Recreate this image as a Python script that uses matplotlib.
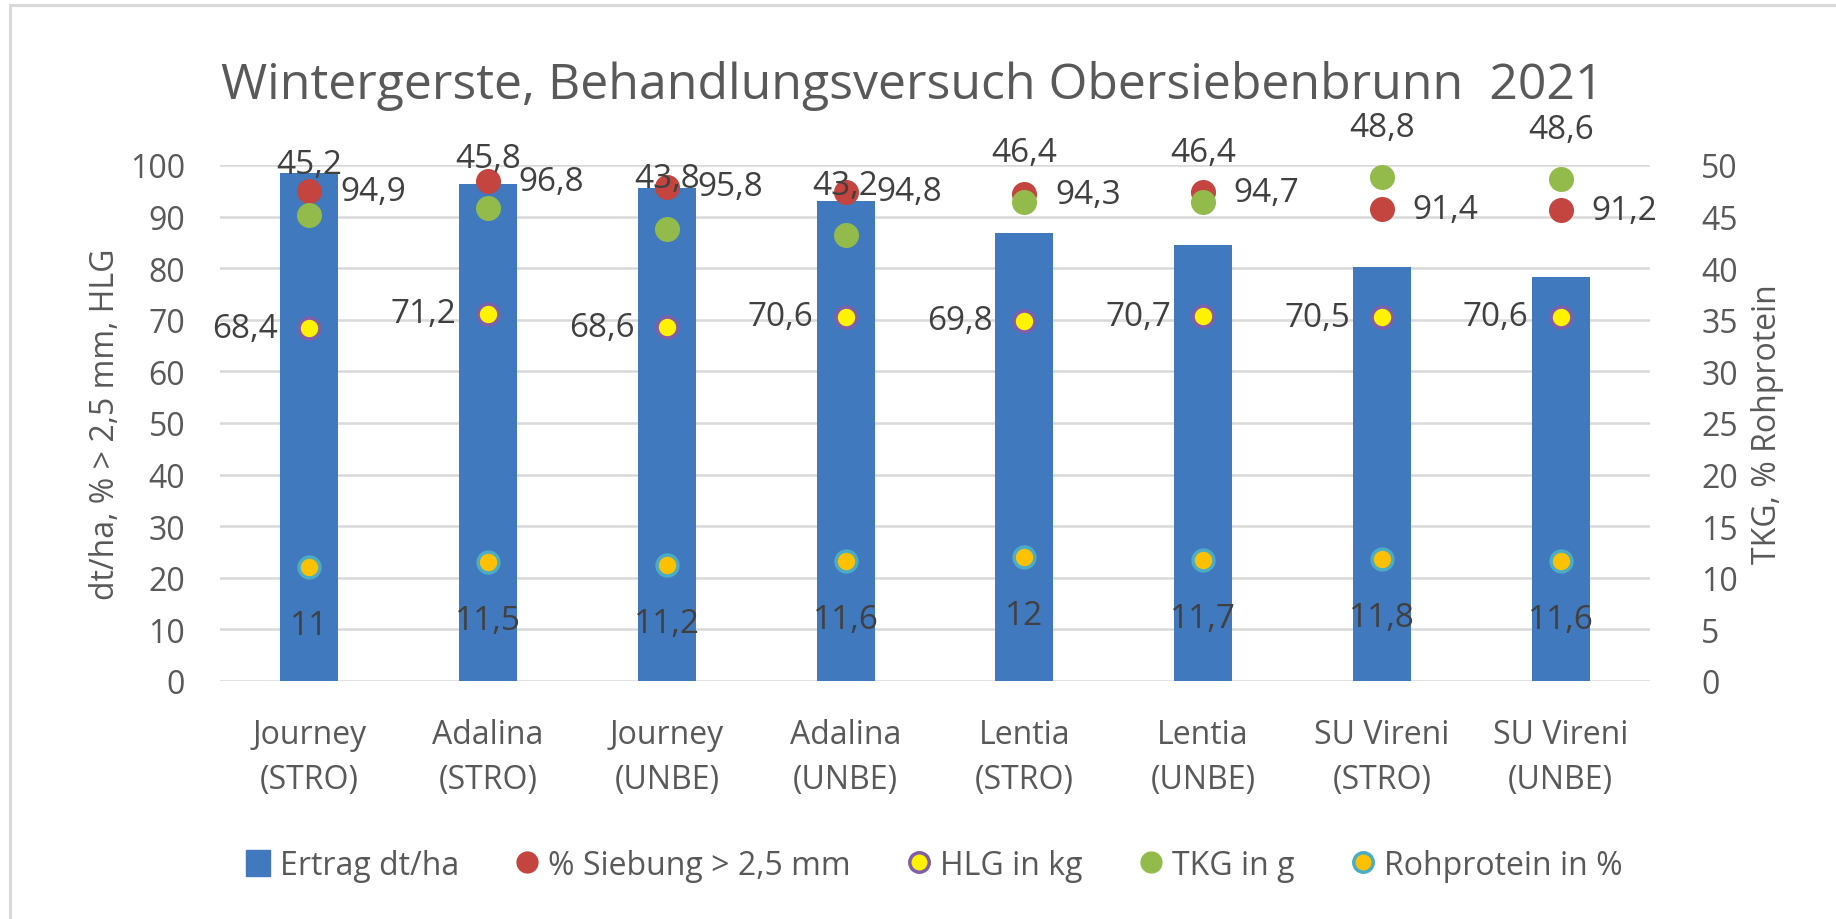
import matplotlib.pyplot as plt
from matplotlib.lines import Line2D
from matplotlib.patches import Patch
import numpy as np

sorten = ["Journey\n(STRO)", "Adalina\n(STRO)", "Journey\n(UNBE)", "Adalina\n(UNBE)",
          "Lentia\n(STRO)", "Lentia\n(UNBE)", "SU Vireni\n(STRO)", "SU Vireni\n(UNBE)"]
ertrag = [98.4, 96.3, 95.6, 93.1, 86.8, 84.4, 80.3, 78.3]
siebung = [94.9, 96.8, 95.8, 94.8, 94.3, 94.7, 91.4, 91.2]
hlg = [68.4, 71.2, 68.6, 70.6, 69.8, 70.7, 70.5, 70.6]
tkg = [45.2, 45.8, 43.8, 43.2, 46.4, 46.4, 48.8, 48.6]
rohprotein = [11, 11.5, 11.2, 11.6, 12, 11.7, 11.8, 11.6]

FONT = ["Open Sans", "DejaVu Sans"]
plt.rcParams["font.family"] = FONT
TXT = "#595959"
LBL = "#404040"
BLUE = "#4179BF"
RED = "#C4443F"
GREEN = "#93BB4B"
YELLOW = "#FFF200"
PURPLE = "#7F5FA8"
ORANGE = "#FFC000"
CYAN = "#4BACC6"

def fmt(v):
    s = f"{v:.1f}".replace(".", ",")
    return s[:-2] if s.endswith(",0") else s

fig = plt.figure(figsize=(18.36, 9.2), dpi=100)
ax1 = fig.add_axes([0.1198, 0.2587, 0.7789, 0.5609])
ax2 = ax1.twinx()

x = np.arange(len(sorten))
ax1.bar(x, ertrag, width=0.325, color=BLUE, zorder=2)
ax1.plot(x, siebung, "o", ms=17, color=RED, mec=RED, zorder=3)
ax1.plot(x, hlg, "o", ms=15, color=YELLOW, mec=PURPLE, mew=2.5, zorder=3)
ax2.plot(x, tkg, "o", ms=17, color=GREEN, mec=GREEN, zorder=3)
ax2.plot(x, rohprotein, "o", ms=15, color=ORANGE, mec=CYAN, mew=2.5, zorder=3)

ax1.set_ylim(0, 100)
ax2.set_ylim(0, 50)
ax1.set_xlim(-0.5, len(sorten) - 0.5)
ax1.set_yticks(range(0, 101, 10))
ax2.set_yticks(range(0, 51, 5))
ax1.set_xticks(x)
ax1.set_xticklabels(sorten, linespacing=1.45)
ax1.yaxis.grid(True, color="#D9D9D9", lw=1.8, zorder=0)
ax1.set_axisbelow(True)
for ax in (ax1, ax2):
    for sp in ax.spines.values():
        sp.set_visible(False)
    ax.tick_params(length=0, labelsize=23, colors=TXT)
ax1.tick_params(axis="y", pad=25)
ax2.tick_params(axis="y", pad=37)
ax1.tick_params(axis="x", pad=27)

ax1.set_ylabel("dt/ha, % > 2,5 mm, HLG", fontsize=23, color=TXT, labelpad=6)
ax2.set_ylabel("TKG, % Rohprotein", fontsize=23, color=TXT, labelpad=9)

kw = dict(textcoords="offset points", fontsize=24, color=LBL, zorder=5)
for i in range(len(sorten)):
    ax2.annotate(fmt(siebung[i]), (x[i], siebung[i] / 2), xytext=(22, 0),
                 ha="left", va="center", **kw)
    ax2.annotate(fmt(hlg[i]), (x[i], hlg[i] / 2), xytext=(-23, 0),
                 ha="right", va="center", **kw)
    ax2.annotate(fmt(tkg[i]), (x[i], tkg[i]), xytext=(0, 36),
                 ha="center", va="center", **kw)
    ax2.annotate(fmt(rohprotein[i]), (x[i], rohprotein[i]), xytext=(0, -42),
                 ha="center", va="center", **kw)

fig.text(0.497, 0.906, "Wintergerste, Behandlungsversuch Obersiebenbrunn  2021",
         ha="center", va="center", fontsize=36, color=TXT)

handles = [
    Patch(color=BLUE, label="Ertrag dt/ha"),
    Line2D([], [], ls="", marker="o", ms=15, color=RED, label="% Siebung > 2,5 mm"),
    Line2D([], [], ls="", marker="o", ms=14, color=YELLOW, mec=PURPLE, mew=2.5, label="HLG in kg"),
    Line2D([], [], ls="", marker="o", ms=15, color=GREEN, label="TKG in g"),
    Line2D([], [], ls="", marker="o", ms=14, color=ORANGE, mec=CYAN, mew=2.5, label="Rohprotein in %"),
]
leg = fig.legend(handles=handles, loc="center", bbox_to_anchor=(0.509, 0.058), ncol=5,
                 frameon=False, fontsize=23, handlelength=0.75, handleheight=0.85,
                 handletextpad=0.3, columnspacing=1.75)
for t in leg.get_texts():
    t.set_color(TXT)

# grauer Rahmen des Diagrammbereichs
fig.add_artist(Line2D([10 / 1836, 10 / 1836], [0, 1 - 6 / 920], transform=fig.transFigure,
                      color="#D9D9D9", lw=2.2))
fig.add_artist(Line2D([10 / 1836, 1], [1 - 6 / 920, 1 - 6 / 920], transform=fig.transFigure,
                      color="#D9D9D9", lw=2.2))

fig.savefig("out.png", dpi=100)
